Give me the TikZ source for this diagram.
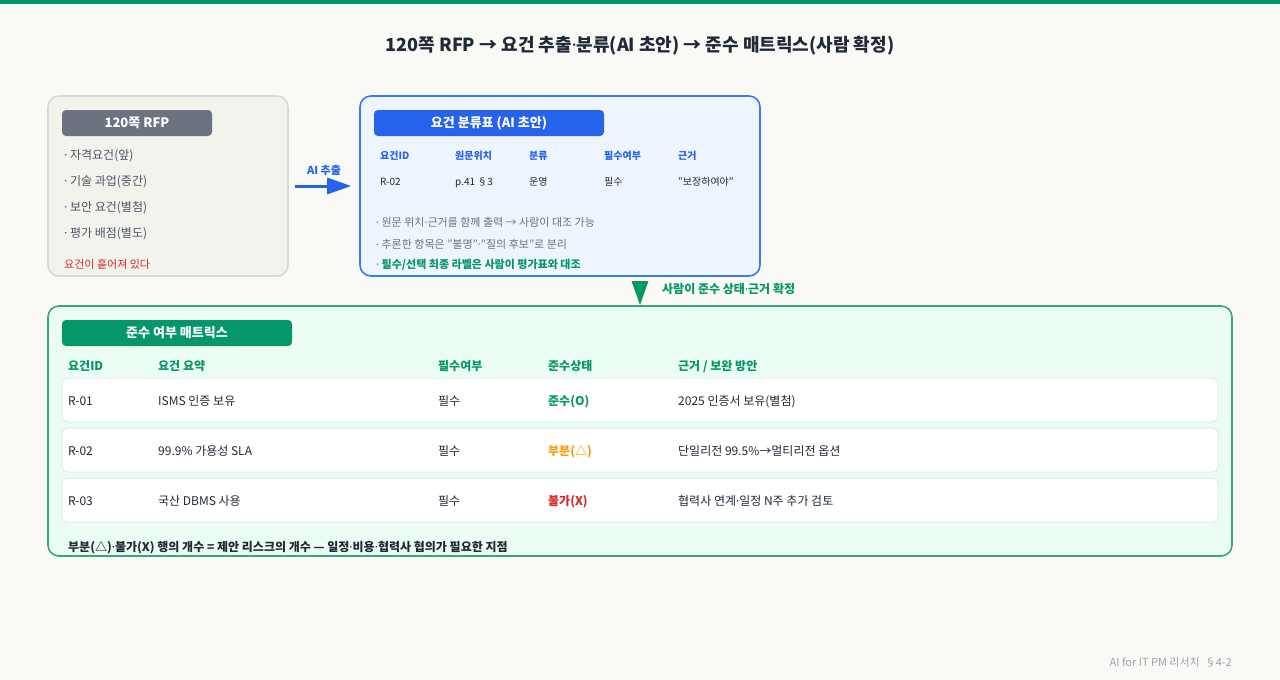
\documentclass[tikz,border=0pt]{standalone}
\usepackage{fontspec}
\setmainfont{Noto Sans CJK KR}
\newfontfamily\dotfont{Noto Sans}
\newcommand\md{{\dotfont ·}}
\usetikzlibrary{arrows.meta,positioning}

\definecolor{paper}{HTML}{F9FAF6}
\definecolor{ink}{HTML}{1F2937}
\definecolor{muted}{HTML}{4B5563}
\definecolor{faint}{HTML}{9CA3AF}
\definecolor{slate}{HTML}{6B7280}
\definecolor{rfpfill}{HTML}{F3F3EE}
\definecolor{rfpline}{HTML}{D6D8D9}
\definecolor{aiblue}{HTML}{2563EB}
\definecolor{draftline}{HTML}{3B7BEE}
\definecolor{draftfill}{HTML}{EEF5FE}
\definecolor{okgreen}{HTML}{059669}
\definecolor{mxline}{HTML}{37A57B}
\definecolor{mxfill}{HTML}{EBFCF3}
\definecolor{rowline}{HTML}{DCEFE5}
\definecolor{warn}{HTML}{F59E0B}
\definecolor{bad}{HTML}{DC2626}

\tikzset{
  panel/.style={draw, line width=1.6pt, rounded corners=11pt, inner sep=0pt},
  pill/.style={rounded corners=4pt, minimum height=26, inner sep=0pt,
    text=white, font=\bfseries\fontsize{13}{15}\selectfont},
  % text placed by its baseline, y given as visual middle
  body/.style={anchor=base west, inner sep=0pt, yshift=-4.3pt, font=\fontsize{12}{14}\selectfont},
  small/.style={anchor=base west, inner sep=0pt, yshift=-4pt, font=\fontsize{11}{13}\selectfont},
  tiny/.style={anchor=base west, inner sep=0pt, yshift=-3.6pt, font=\fontsize{10}{12}\selectfont},
  rowbox/.style={draw=rowline, fill=white, line width=1pt, rounded corners=6pt,
    minimum width=1156, minimum height=44, inner sep=0pt}
}

\begin{document}
\begin{tikzpicture}[x=1pt,y=-1pt]
  % page and top strip
  \fill[paper] (0,0) rectangle (1280,680);
  \useasboundingbox (0,0) rectangle (1280,680);
  \fill[okgreen] (0,0) rectangle (1280,4);

  \node[anchor=base, inner sep=0pt, yshift=-6.5pt, font=\bfseries\fontsize{18}{21}\selectfont, text=ink] (title) at (640,45)
    {120쪽 RFP → 요건 추출\md{}분류(AI 초안) → 준수 매트릭스(사람 확정)};

  % the RFP as delivered
  \node[panel, draw=rfpline, fill=rfpfill, minimum width=240, minimum height=180] (rfp) at (168,186) {};
  \node[pill, fill=slate, minimum width=150] (rfphead) at (137,123) {120쪽 RFP};
  \foreach \t [count=\i] in {자격요건(앞), 기술 과업(중간), 보안 요건(별첨), 평가 배점(별도)}
    \node[body, text=muted] (part\i) at (64,129+26*\i) {\md{} \t};
  \node[small, text=bad] (scatter) at (64,264) {요건이 흩어져 있다};

  % AI draft table
  \node[panel, draw=draftline, fill=draftfill, minimum width=400, minimum height=180] (draft) at (560,186) {};
  \node[pill, fill=aiblue, minimum width=230] (drafthead) at (489,123) {요건 분류표 (AI 초안)};
  \foreach \x/\h/\v [count=\i] in {380/요건ID/R-02, 455/원문위치/{p.41 §3}, 529/분류/운영,
                                   604/필수여부/필수, 678/근거/"보장하여야"}{
    \node[tiny, text=aiblue, font=\bfseries\fontsize{10}{12}\selectfont] (dh\i) at (\x,156) {\h};
    \node[tiny, text=ink] (dv\i) at (\x,182) {\v};
  }
  \node[small, text=slate] (note1) at (376,222)
    {\md{} 원문 위치\md{}근거를 함께 출력 → 사람이 대조 가능};
  \node[small, text=slate] (note2) at (376,244)
    {\md{} 추론한 항목은 "불명"\md{}"질의 후보"로 분리};
  \node[small, text=okgreen, font=\bfseries\fontsize{11}{13}\selectfont] (note3) at (376,264)
    {\md{} 필수/선택 최종 라벨은 사람이 평가표와 대조};

  % compliance matrix
  \node[panel, draw=mxline, fill=mxfill, minimum width=1184, minimum height=250] (matrix) at (640,431) {};
  \node[pill, fill=okgreen, minimum width=230] (mxhead) at (177,333) {준수 여부 매트릭스};
  \foreach \x/\h [count=\i] in {68/요건ID, 158/요건 요약, 438/필수여부, 548/준수상태, 678/{근거 / 보완 방안}}
    \node[body, text=okgreen, font=\bfseries\fontsize{12}{14}\selectfont] (mh\i) at (\x,366) {\h};
  \foreach \id/\what/\st/\col/\why [count=\i] in {
      R-01/ISMS 인증 보유/준수(O)/okgreen/2025 인증서 보유(별첨),
      R-02/99.9\% 가용성 SLA/부분(△)/warn/단일리전 99.5\%→멀티리전 옵션,
      R-03/국산 DBMS 사용/불가(X)/bad/협력사 연계\md{}일정 N주 추가 검토}{
    \node[rowbox] (row\i) at (640,350+50*\i) {};
    \node[body, text=ink] (rid\i) at (68,351+50*\i) {\id};
    \node[body, text=ink] (rwhat\i) at (158,351+50*\i) {\what};
    \node[body, text=ink] (rmust\i) at (438,351+50*\i) {필수};
    \node[body, text=\col, font=\bfseries\fontsize{12}{14}\selectfont] (rst\i) at (548,351+50*\i) {\st};
    \node[body, text=ink] (rwhy\i) at (678,351+50*\i) {\why};
  }
  \node[body, text=ink, font=\bfseries\fontsize{12}{14}\selectfont] (risk) at (68,547)
    {부분(△)\md{}불가(X) 행의 개수 = 제안 리스크의 개수 — 일정\md{}비용\md{}협력사 협의가 필요한 지점};

  % hand-offs
  \draw[aiblue, line width=3pt, -{Triangle[length=24pt,width=16pt]}, shorten <=6pt, shorten >=8pt]
    (rfp.east) -- (draft.west) node[midway, above=6pt, font=\bfseries\fontsize{11}{13}\selectfont] (extract) {AI 추출};
  \draw[okgreen, line width=3pt, -{Triangle[length=24pt,width=16pt]}, shorten <=6pt]
    (matrix.north |- draft.south) -- (matrix.north);
  \node[body, text=okgreen, font=\bfseries\fontsize{12}{14}\selectfont] (confirm) at (662,289)
    {사람이 준수 상태\md{}근거 확정};

  \node[anchor=base east, inner sep=0pt, yshift=-4pt, text=faint, font=\fontsize{11}{13}\selectfont] (credit) at (1232,662)
    {AI for IT PM 리서치 ~§4-2};
\end{tikzpicture}
\end{document}
